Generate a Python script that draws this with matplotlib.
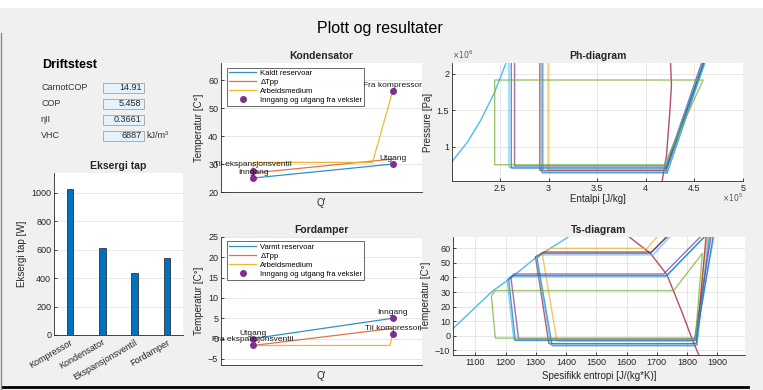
import numpy as np
import matplotlib.pyplot as plt
from matplotlib.lines import Line2D
from matplotlib.patches import Rectangle
from matplotlib.ticker import FuncFormatter

plt.rcParams['font.family'] = ['Liberation Sans', 'DejaVu Sans']

W, H = 763, 390

# Driftstest-resultater
drift_labels = ['CarnotCOP', 'COP', 'ηII', 'VHC']
drift_values = ['14.91', '5.458', '0.3661', '6887']

# Eksergitap per komponent [W]
komponenter = ['Kompressor', 'Kondensator', 'Ekspansjonsventil', 'Fordamper']
eksergi_tap = [1030, 610, 435, 540]

# Kondensator (Q' normalisert, temperatur i C)
kond_q_res = [0, 1]
kond_T_res = [25.0, 30.0]
kond_q_pp = [0, 1]
kond_T_pp = [26.8, 31.8]
kond_q_med = [0, 0, 0.856, 1]
kond_T_med = [27.7, 30.6, 30.6, 56.2]
kond_q_pts = [0, 0, 1, 1]
kond_T_pts = [27.7, 24.9, 56.2, 30.0]
kond_navn = ['Til ekspansjonsventil', 'Inngang', 'Fra kompressor', 'Utgang']

# Fordamper
ford_q_res = [0, 1]
ford_T_res = [0.0, 5.0]
ford_q_pp = [0, 1]
ford_T_pp = [-1.7, 2.5]
ford_q_med = [0, 0.98, 1]
ford_T_med = [-1.7, -1.7, 1.2]
ford_q_pts = [0, 0, 1, 1]
ford_T_pts = [0.0, -1.7, 5.0, 1.2]
ford_navn = ['Utgang', 'Fra ekspansjonsventil', 'Inngang', 'Til kompressor']

# Metningskurver
ph_liq_h = [2.00e5, 2.029e5, 2.166e5, 2.302e5, 2.439e5, 2.568e5, 2.63e5]
ph_liq_p = [0.78e6, 0.839e6, 1.069e6, 1.367e6, 1.734e6, 2.17e6, 2.4e6]
ph_vap_h = [4.16e5, 4.169e5, 4.213e5, 4.247e5, 4.264e5, 4.254e5, 4.24e5]
ph_vap_p = [0.45e6, 0.541e6, 0.886e6, 1.482e6, 1.849e6, 2.17e6, 2.4e6]
ts_liq_s = [1010, 1028, 1155, 1216, 1304, 1414, 1440]
ts_liq_T = [2.0, 5.3, 30.4, 39.5, 54.3, 68.7, 72.0]
ts_vap_s = [1590, 1608, 1679, 1734, 1782, 1823, 1839, 1845]
ts_vap_T = [71.0, 68.0, 56.6, 41.8, 17.0, -5.4, -13.0, -16.0]

# Kretsprosesser fra testkjoringer
syklus_farger = ['#0072BD', '#EDB120', '#A2142F', '#4DBEEE',
                 '#7E2F8E', '#4DBEEE', '#0072BD', '#77AC30']
ph_h = [
    [4.22e5, 4.67e5, 2.933e5, 2.933e5, 4.22e5],
    [4.20e5, 4.64e5, 2.995e5, 2.995e5, 4.20e5],
    [4.21e5, 4.66e5, 2.910e5, 2.910e5, 4.21e5],
    [4.22e5, 4.67e5, 2.944e5, 2.944e5, 4.22e5],
    [4.21e5, 4.64e5, 2.650e5, 2.650e5, 4.21e5],
    [4.20e5, 4.65e5, 2.592e5, 2.592e5, 4.20e5],
    [4.21e5, 4.66e5, 2.616e5, 2.616e5, 4.21e5],
    [4.19e5, 4.59e5, 2.445e5, 2.445e5, 4.19e5],
]
ph_p = [
    [0.647e6, 2.4e6, 2.4e6, 0.647e6, 0.647e6],
    [0.690e6, 2.4e6, 2.4e6, 0.690e6, 0.690e6],
    [0.679e6, 2.4e6, 2.4e6, 0.679e6, 0.679e6],
    [0.665e6, 2.4e6, 2.4e6, 0.665e6, 0.665e6],
    [0.740e6, 2.4e6, 2.4e6, 0.740e6, 0.740e6],
    [0.725e6, 2.4e6, 2.4e6, 0.725e6, 0.725e6],
    [0.711e6, 2.4e6, 2.4e6, 0.711e6, 0.711e6],
    [0.757e6, 1.917e6, 1.917e6, 0.757e6, 0.757e6],
]
ts_s = [
    [1832, 1878, 1770, 1679, 1321, 1304, 1354, 1828, 1832],
    [1828, 1870, 1730, 1668, 1348, 1321, 1370, 1824, 1828],
    [1832, 1866, 1765, 1683, 1328, 1299, 1343, 1828, 1832],
    [1834, 1874, 1775, 1688, 1316, 1302, 1350, 1830, 1834],
    [1826, 1885, 1878, 1723, 1227, 1218, 1243, 1822, 1826],
    [1829, 1895, 1893, 1729, 1216, 1205, 1227, 1825, 1829],
    [1830, 1892, 1890, 1733, 1222, 1210, 1232, 1826, 1830],
    [1828, 1851, 1756, 1165, 1153, 1166, 1825, 1828],
]
ts_T = [
    [-6.0, 75, 75, 56.6, 56.6, 53.2, -6.8, -6.8, -6.0],
    [-3.0, 75, 75, 60.0, 60.0, 56.6, -3.8, -3.8, -3.0],
    [-4.6, 75, 75, 57.5, 57.5, 54.3, -5.4, -5.4, -4.6],
    [-5.4, 75, 75, 55.5, 55.5, 53.5, -6.2, -6.2, -5.4],
    [-1.4, 75, 75, 42.4, 42.4, 39.5, -2.2, -2.2, -1.4],
    [-2.0, 75, 75, 40.6, 40.6, 38.3, -2.7, -2.7, -2.0],
    [-2.5, 75, 75, 41.3, 41.3, 39.0, -3.2, -3.2, -2.5],
    [-0.8, 56.6, 31.0, 31.0, 27.4, -1.6, -1.6, -0.8],
]

TXT = '#262626'
GRID = '#e3e3e3'


def px_axes(left, top, right, bottom):
    return [left / W, 1 - bottom / H, (right - left) / W, (bottom - top) / H]


def style(ax, xgrid=False, ygrid=True):
    ax.set_facecolor('white')
    ax.spines['top'].set_visible(False)
    ax.spines['right'].set_visible(False)
    for sp in ['left', 'bottom']:
        ax.spines[sp].set_color(TXT)
        ax.spines[sp].set_linewidth(0.6)
    ax.tick_params(direction='in', length=2.5, width=0.6, labelsize=6.5,
                   colors=TXT, pad=2)
    ax.set_axisbelow(True)
    if xgrid:
        ax.grid(True, axis='x', color=GRID, lw=0.6)
    if ygrid:
        ax.grid(True, axis='y', color=GRID, lw=0.6)


fig = plt.figure(figsize=(W / 100, H / 100), dpi=100, facecolor='#f0f0f0')

# hvit stripe over panelet, kantlinjer
fig.patches.append(Rectangle((0, 1 - 7 / H), 1, 7 / H, transform=fig.transFigure,
                             color='white', zorder=0))
fig.lines.append(Line2D([1.5 / W, 1.5 / W], [1 - 33 / H, 0], transform=fig.transFigure,
                        color='#8a8a8a', lw=1))
fig.lines.append(Line2D([3 / W, 748 / W], [1 - 387 / H, 1 - 387 / H],
                        transform=fig.transFigure, color='black', lw=2))

fig.text(380 / W, 1 - 28 / H, 'Plott og resultater', ha='center', va='center',
         fontsize=11.5, color='black')

# Driftstest-panel
fig.text(42 / W, 1 - 65 / H, 'Driftstest', ha='left', va='center',
         fontsize=9, fontweight='bold', color='black')
for i, (lab, val) in enumerate(zip(drift_labels, drift_values)):
    yc = 87.5 + 16 * i
    fig.text(41 / W, 1 - yc / H, lab, ha='left', va='center', fontsize=6.5, color='#333333')
    fig.patches.append(Rectangle((103 / W, 1 - (yc + 5) / H), 41 / W, 10 / H,
                                 transform=fig.transFigure, facecolor='#e5f1fb',
                                 edgecolor='#adadad', lw=0.7))
    fig.text(141.5 / W, 1 - yc / H, val, ha='right', va='center', fontsize=6.5, color='#262626')
fig.text(146 / W, 1 - 135.5 / H, 'kJ/m³', ha='left', va='center', fontsize=6.5, color='#333333')

# Eksergi tap
ax = fig.add_axes(px_axes(54, 173, 183, 335))
style(ax)
pos = np.arange(1, len(komponenter) + 1)
ax.bar(pos, eksergi_tap, width=0.2, color='#0072BD', edgecolor='#1a1a1a', lw=0.5)
ax.set_xlim(0.5, 4.5)
ax.set_ylim(0, 1140)
ax.set_yticks(range(0, 1001, 200))
ax.set_xticks(pos)
ax.set_xticklabels(komponenter, rotation=30, ha='right', rotation_mode='anchor', fontsize=6.5)
ax.set_title('Eksergi tap', fontsize=7.5, fontweight='bold', color=TXT, pad=3)
ax.set_ylabel('Eksergi tap [W]', fontsize=7, color=TXT, labelpad=3)


def veksler(ax, q_res, T_res, q_pp, T_pp, q_med, T_med, q_pts, T_pts, navn,
            res_label, ylim, yticks, title):
    style(ax)
    ax.plot(q_res, T_res, color='#0072BD', lw=0.9, alpha=0.8, label=res_label)
    ax.plot(q_pp, T_pp, color='#D95319', lw=0.9, alpha=0.8, label='ΔTpp')
    ax.plot(q_med, T_med, color='#EDB120', lw=0.9, alpha=0.9, label='Arbeidsmedium')
    ax.plot(q_pts, T_pts, 'o', color='#7E2F8E', ms=4, ls='none',
            label='Inngang og utgang fra veksler')
    for q, T, n in zip(q_pts, T_pts, navn):
        ax.annotate(n, (q, T), xytext=(0, 1.5), textcoords='offset points',
                    ha='center', va='bottom', fontsize=6, color='#1a1a1a')
    ax.set_xlim(-0.23, 1.21)
    ax.set_ylim(*ylim)
    ax.set_yticks(yticks)
    ax.set_xticks([])
    ax.set_xlabel("Q'", fontsize=7, color=TXT, labelpad=4)
    ax.set_ylabel('Temperatur [C°]', fontsize=7, color=TXT, labelpad=3)
    ax.set_title(title, fontsize=7.5, fontweight='bold', color=TXT, pad=3)
    leg = ax.legend(loc='upper left', bbox_to_anchor=(0.03, 0.965), fontsize=5.5,
                    frameon=True, fancybox=False, edgecolor='#262626',
                    handlelength=3.6, labelspacing=0.22, borderpad=0.25,
                    handletextpad=0.5, borderaxespad=0)
    leg.get_frame().set_linewidth(0.6)


ax = fig.add_axes(px_axes(221, 63, 422, 192))
veksler(ax, kond_q_res, kond_T_res, kond_q_pp, kond_T_pp, kond_q_med, kond_T_med,
        kond_q_pts, kond_T_pts, kond_navn, 'Kaldt reservoar', (20, 66.2),
        range(20, 61, 10), 'Kondensator')

ax = fig.add_axes(px_axes(221, 237, 422, 365))
veksler(ax, ford_q_res, ford_T_res, ford_q_pp, ford_T_pp, ford_q_med, ford_T_med,
        ford_q_pts, ford_T_pts, ford_navn, 'Varmt reservoar', (-6.5, 25),
        range(-5, 26, 5), 'Fordamper')

# Ph-diagram
ax = fig.add_axes(px_axes(452, 63, 743, 181))
style(ax, xgrid=True, ygrid=True)
ax.plot(ph_liq_h, ph_liq_p, color='#4DBEEE', lw=1.0)
ax.plot(ph_vap_h, ph_vap_p, color='#A2142F', lw=1.0, alpha=0.75)
for h, p, c in zip(ph_h, ph_p, syklus_farger):
    ax.plot(h, p, color=c, lw=1.0, alpha=0.7)
ax.set_xlim(2.006e5, 5e5)
ax.set_ylim(0.534e6, 2.15e6)
ax.set_xticks(np.arange(2.5e5, 5.01e5, 0.5e5))
ax.set_yticks([1e6, 1.5e6, 2e6])
ax.xaxis.set_major_formatter(FuncFormatter(lambda v, _: f'{v / 1e5:g}'))
ax.yaxis.set_major_formatter(FuncFormatter(lambda v, _: f'{v / 1e6:g}'))
ax.text(0.0, 1.015, r'$\times10^{6}$', transform=ax.transAxes, ha='left', va='bottom',
        fontsize=5.5, color='#555555')
ax.text(1.0, -0.09, r'$\times10^{5}$', transform=ax.transAxes, ha='right', va='top',
        fontsize=5.5, color='#555555')
ax.set_title('Ph-diagram', fontsize=7.5, fontweight='bold', color=TXT, pad=3)
ax.set_xlabel('Entalpi [J/kg]', fontsize=7, color=TXT, labelpad=1)
ax.set_ylabel('Pressure [Pa]', fontsize=7, color=TXT, labelpad=3)

# Ts-diagram
ax = fig.add_axes(px_axes(453, 237, 745, 355))
style(ax, xgrid=True, ygrid=True)
ax.plot(ts_liq_s, ts_liq_T, color='#4DBEEE', lw=1.0)
ax.plot(ts_vap_s, ts_vap_T, color='#A2142F', lw=1.0, alpha=0.75)
for s, T, c in zip(ts_s, ts_T, syklus_farger):
    ax.plot(s, T, color=c, lw=1.0, alpha=0.7)
ax.set_xlim(1026, 1992)
ax.set_ylim(-13.2, 67.8)
ax.set_xticks(range(1100, 1901, 100))
ax.set_yticks(range(-10, 61, 10))
ax.set_title('Ts-diagram', fontsize=7.5, fontweight='bold', color=TXT, pad=3)
ax.set_xlabel('Spesifikk entropi [J/(kg*K)]', fontsize=7, color=TXT, labelpad=3)
ax.set_ylabel('Temperatur [C°]', fontsize=7, color=TXT, labelpad=3)

fig.savefig('out.png', dpi=100, facecolor=fig.get_facecolor())
